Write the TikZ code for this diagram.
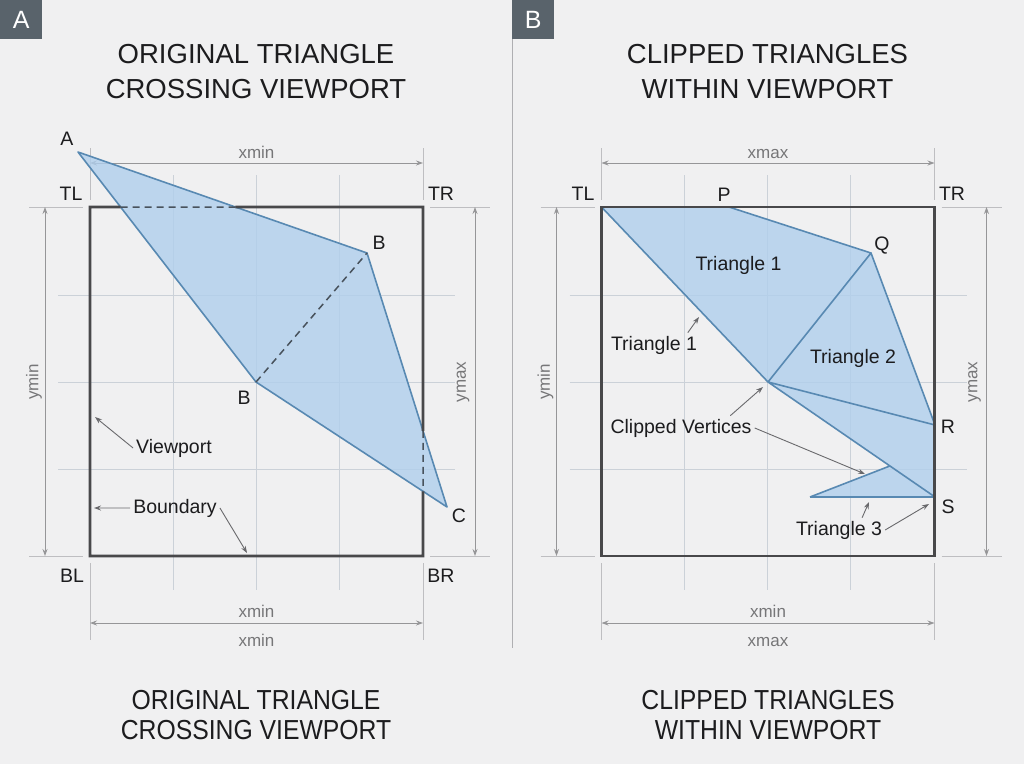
\documentclass[tikz,border=0pt]{standalone}
\usepackage{fontspec}
\setmainfont{Liberation Sans}
\usetikzlibrary{arrows.meta,calc}

\definecolor{bgcol}{RGB}{240,240,241}
\definecolor{tagcol}{RGB}{89,99,107}
\definecolor{divcol}{RGB}{175,175,178}
\definecolor{boxcol}{RGB}{72,72,74}
\definecolor{gridcol}{RGB}{203,209,216}
\definecolor{extcol}{RGB}{190,190,193}
\definecolor{dimcol}{RGB}{150,150,152}
\definecolor{dimtxt}{RGB}{118,118,120}
\definecolor{trifill}{RGB}{176,207,237}
\definecolor{triline}{RGB}{88,137,178}
\definecolor{cutcol}{RGB}{72,82,92}
\definecolor{txtcol}{RGB}{28,28,30}
\definecolor{notecol}{RGB}{105,105,108}

\newcommand{\labelsize}{\fontsize{19.5}{23}\selectfont}
\newcommand{\headsize}{\fontsize{27.5}{32}\selectfont}
\newcommand{\dimsize}{\fontsize{17}{20}\selectfont}
\newcommand{\tagsize}{\fontsize{25}{28}\selectfont}

\tikzset{
  viewbox/.style={draw=boxcol, line width=2.6pt},
  gridline/.style={draw=gridcol, line width=1pt},
  extline/.style={draw=extcol, line width=0.9pt},
  dimarrow/.style={draw=dimcol, line width=0.9pt, {Stealth[length=7pt,width=5pt]}-{Stealth[length=7pt,width=5pt]}},
  dimlabel/.style={font=\dimsize, text=dimtxt, inner sep=0pt, anchor=base},
  triface/.style={fill=trifill, fill opacity=0.8},
  triedge/.style={draw=triline, line width=1.6pt, line join=round},
  cutline/.style={draw=cutcol, line width=1.5pt, dash pattern=on 7pt off 5pt},
  ptlabel/.style={font=\labelsize, text=txtcol, inner sep=0pt, anchor=base},
  callnote/.style={font=\labelsize, text=txtcol, inner sep=3pt, anchor=base},
  callout/.style={draw=notecol, line width=0.9pt, -{Stealth[length=7pt,width=5pt]}},
  heading/.style={font=\headsize, text=txtcol, inner sep=0pt, anchor=base},
  paneltag/.style={fill=tagcol, text=white, font=\tagsize, anchor=north west,
    minimum width=42pt, minimum height=39pt, inner sep=0pt},
}

\begin{document}
\begin{tikzpicture}[x=1pt, y=-1pt]
    % Canvas
    \fill[bgcol] (0,0) rectangle (1024,764);
    \useasboundingbox (0,0) rectangle (1024,764);

    % Divider and panel tags
    \draw[draw=divcol, line width=1pt] (512,0) -- (512,648);
    \node[paneltag] (tagA) at (0,0) {A};
    \node[paneltag] (tagB) at (512,0) {B};

    % Headings, top and bottom
    \node[heading] (headA1) at (256,63) {ORIGINAL TRIANGLE};
    \node[heading] (headA2) at (256,98) {CROSSING VIEWPORT};
    \node[heading] (headB1) at (767.5,63) {CLIPPED TRIANGLES};
    \node[heading] (headB2) at (767.5,98) {WITHIN VIEWPORT};
    \node[heading] (footA1) at (256,709) {\scalebox{0.9}[1]{ORIGINAL TRIANGLE}};
    \node[heading] (footA2) at (256,739) {\scalebox{0.9}[1]{CROSSING VIEWPORT}};
    \node[heading] (footB1) at (768,709) {\scalebox{0.9}[1]{CLIPPED TRIANGLES}};
    \node[heading] (footB2) at (768,739) {\scalebox{0.9}[1]{WITHIN VIEWPORT}};

    % Viewport frame, grid and dimensions for both panels
    \foreach \px/\pn/\dtop/\dlow in {0/a/xmin/xmin, 511.5/b/xmax/xmax} {
      \begin{scope}[xshift=\px pt]
        % corners of the viewport
        \coordinate (TL\pn) at (90,207);
        \coordinate (TR\pn) at (423,207);
        \coordinate (BR\pn) at (423,556);
        \coordinate (BL\pn) at (90,556);

        % grid
        \foreach \gx in {173,256,339}
          \draw[gridline] (\gx,175) -- (\gx,590);
        \foreach \gy in {295,382,469}
          \draw[gridline] (58,\gy) -- (455,\gy);

        % extension lines
        \draw[extline] (29,207) -- (83,207) (430,207) -- (490,207)
                       (29,556) -- (83,556) (430,556) -- (490,556)
                       (90,148) -- (90,200) (423,148) -- (423,200)
                       (90,563) -- (90,640) (423,563) -- (423,640);

        % dimension arrows
        \draw[dimarrow] (90,163) -- (423,163);
        \draw[dimarrow] (90,623) -- (423,623);
        \draw[dimarrow] (45,207) -- (45,556);
        \draw[dimarrow] (475,207) -- (475,556);
        \node[dimlabel] (dimTop\pn) at (256.5,158) {\dtop};
        \node[dimlabel] (dimBot\pn) at (256.5,617) {xmin};
        \node[dimlabel] (dimLow\pn) at (256.5,646) {\dlow};
        \node[dimlabel, anchor=center, rotate=90] (dimL\pn) at (34,382) {ymin};
        \node[dimlabel, anchor=center, rotate=90] (dimR\pn) at (463,382) {ymax};
      \end{scope}
    }

    % ---------- Panel A: original triangle ----------
    \coordinate (A) at (78,152);
    \coordinate (B1) at (367,253);
    \coordinate (B2) at (256,382);
    \coordinate (C) at (447,507);

    \path[triface, triedge] (A) -- (B1) -- (C) -- (B2) -- cycle;

    % Crossing points on the viewport edges
    \coordinate (cutTop1) at (intersection of A--B2 and TLa--TRa);
    \coordinate (cutTop2) at (intersection of A--B1 and TLa--TRa);
    \coordinate (cutRt1) at (intersection of B1--C and TRa--BRa);
    \coordinate (cutRt2) at (intersection of B2--C and TRa--BRa);

    % Viewport, with the crossed parts dashed
    \draw[viewbox] (cutTop2) -- (TRa) -- (cutRt1)
                   (cutRt2) -- (BRa) -- (BLa) -- (TLa) -- (cutTop1);
    \draw[cutline] (cutTop1) -- (cutTop2) (cutRt1) -- (cutRt2) (B2) -- (B1);

    % Point labels
    \node[ptlabel] (lblA) at (67,145) {A};
    \node[ptlabel] (lblB1) at (379,249) {B};
    \node[ptlabel] (lblB2) at (244,404) {B};
    \node[ptlabel] (lblC) at (459,522) {C};
    \node[ptlabel] (lblTLa) at (71,200) {TL};
    \node[ptlabel] (lblTRa) at (441,200) {TR};
    \node[ptlabel] (lblBLa) at (72,582) {BL};
    \node[ptlabel] (lblBRa) at (441,582) {BR};

    % Callouts
    \node[callnote] (vpNote) at (174,453) {Viewport};
    \node[callnote] (bdNote) at (175,513) {Boundary};
    \coordinate (vpTip) at (95,417);
    \coordinate (bdTipL) at (94,508);
    \coordinate (bdTipB) at (247,553);
    \draw[callout] (vpNote.west) -- (vpTip);
    \draw[callout] (bdNote.west) -- (bdTipL);
    \draw[callout] (bdNote.east) -- (bdTipB);

    % ---------- Panel B: clipped triangles ----------
    \coordinate (P) at (729,207);
    \coordinate (Q) at (871,253);
    \coordinate (R) at (935,425);
    \coordinate (S) at (935,497);
    \coordinate (V) at (768,382);
    \coordinate (T3a) at (810,497);
    \coordinate (T3b) at ($(V)!0.73!(S)$);

    \fill[triface] (TLb) -- (P) -- (Q) -- (R) -- (S) -- (V) -- cycle;
    \fill[triface] (T3a) -- (T3b) -- (S) -- cycle;
    \draw[triedge] (TLb) -- (V) -- (Q) (P) -- (Q) -- (R)
                   (V) -- (R) (V) -- (S) (T3a) -- (T3b) (T3a) -- (S);
    \draw[viewbox] (TLb) rectangle (BRb);

    % Point labels
    \node[ptlabel] (lblTLb) at (583,200) {TL};
    \node[ptlabel] (lblP) at (724,201) {P};
    \node[ptlabel] (lblTRb) at (952,200) {TR};
    \node[ptlabel] (lblQ) at (882,250) {Q};
    \node[ptlabel] (lblR) at (948,433) {R};
    \node[ptlabel] (lblS) at (948,513) {S};

    % Triangle names and callouts
    \node[callnote] (tri1In) at (738.5,270) {Triangle 1};
    \node[callnote] (tri2) at (853,363) {Triangle 2};
    \node[callnote] (tri1Out) at (654,350) {Triangle 1};
    \node[callnote] (clipNote) at (681,433) {Clipped Vertices};
    \node[callnote] (tri3) at (839,535) {Triangle 3};
    \coordinate (tri1Tip) at (699,317);
    \coordinate (clipTip1) at (763,387);
    \coordinate (clipTip2) at (865,474);
    \coordinate (tri3Tip1) at (869,502);
    \coordinate (tri3Tip2) at (929,504);
    \draw[callout] (tri1Out.20) -- (tri1Tip);
    \draw[callout] (clipNote.14) -- (clipTip1);
    \draw[callout] (clipNote.east) -- (clipTip2);
    \draw[callout] (tri3.28) -- (tri3Tip1);
    \draw[callout] (tri3.east) -- (tri3Tip2);

\end{tikzpicture}
\end{document}
